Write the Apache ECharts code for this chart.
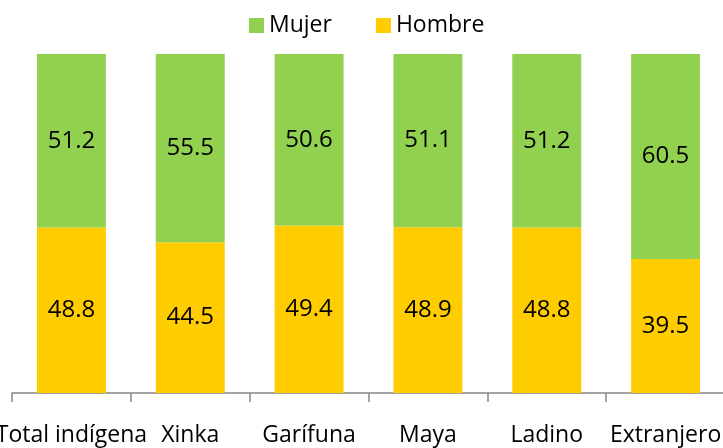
<!DOCTYPE html>
<html>
<head>
<meta charset="utf-8">
<script src="https://cdn.jsdelivr.net/npm/echarts@6/dist/echarts.min.js"></script>
<style>
  html, body { margin: 0; padding: 0; background: #fff; }
  #chart { width: 723px; height: 448px; }
</style>
</head>
<body>
<div id="chart"></div>
<script>
  const categories = ['Total indígena', 'Xinka', 'Garífuna', 'Maya', 'Ladino', 'Extranjero'];
  const hombre = [48.8, 44.5, 49.4, 48.9, 48.8, 39.5];
  const mujer = [51.2, 55.5, 50.6, 51.1, 51.2, 60.5];

  const font = 'Open Sans';
  let chart = echarts.init(document.getElementById('chart'));

  let option = {
    animation: false,
    textStyle: { fontFamily: font },
    legend: {
      top: 9,
      left: 244,
      itemWidth: 15,
      itemHeight: 15,
      itemGap: 44,
      icon: 'rect',
      textStyle: { fontSize: 23, color: '#000', fontFamily: font },
      data: ['Mujer', 'Hombre']
    },
    grid: { left: 12, right: -2, top: 54, bottom: 55, containLabel: false, outerBoundsMode: 'none' },
    xAxis: {
      type: 'category',
      data: categories,
      axisLine: { lineStyle: { color: '#868686', width: 1.5 } },
      axisTick: { show: true, alignWithLabel: false, interval: 0, length: 9, lineStyle: { color: '#868686', width: 1.5 } },
      axisLabel: { fontSize: 23, color: '#000', margin: 31, fontFamily: font, interval: 0 }
    },
    yAxis: {
      type: 'value',
      min: 0,
      max: 100,
      show: false,
      splitLine: { show: false }
    },
    series: [
      {
        name: 'Hombre',
        type: 'bar',
        stack: 'total',
        data: hombre,
        barCategoryGap: '42%',
        itemStyle: { color: '#FFCC00' },
        label: { show: true, position: 'inside', fontSize: 24, color: '#000', fontFamily: font }
      },
      {
        name: 'Mujer',
        type: 'bar',
        stack: 'total',
        data: mujer,
        barCategoryGap: '42%',
        itemStyle: { color: '#92D050' },
        label: { show: true, position: 'inside', fontSize: 24, color: '#000', fontFamily: font }
      }
    ]
  };

  chart.setOption(option);
</script>
</body>
</html>
